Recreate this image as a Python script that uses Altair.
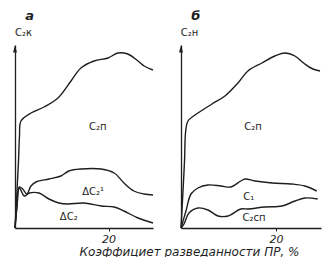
import altair as alt
import pandas as pd

YMAX = 183
XMAX = 29.5

# ---- panel а ----
a_c2p_x = [0, 0.32, 0.53, 0.75, 0.96, 1.28, 3.42, 6.2, 9.19, 11.97, 14.1, 16.9, 19.9, 22.0, 24.1, 26.3, 27.6, 29.5]
a_c2p_y = [0, 27, 47, 67, 92, 107, 115, 121, 130, 147, 160, 167, 170, 175, 174, 167, 162, 158]
a_dc21_x = [0, 0.43, 0.92, 1.65, 2.5, 3.42, 4.5, 7.26, 9.83, 11.5, 14.1, 18.4, 21.2, 23.3, 25.4, 27.6, 29.5]
a_dc21_y = [0, 22, 41, 39, 34, 42, 46, 49, 52, 57, 59, 59, 55, 45, 37, 34, 33]
a_dc2_x = [0, 0.43, 0.92, 1.99, 3.06, 5.13, 7.26, 9.4, 11.3, 14.7, 18.4, 21.2, 23.3, 26.3, 29.5]
a_dc2_y = [0, 22, 40, 32, 35, 35, 29, 25, 24, 25, 22, 21, 17, 10, 5]

# ---- panel б ----
b_c2p_x = [0, 0.42, 0.74, 0.99, 1.47, 3.58, 6.53, 9.26, 12.0, 14.1, 17.05, 19.8, 21.9, 24.0, 26.1, 27.8, 29.3]
b_c2p_y = [0, 37, 67, 97, 107, 115, 124, 132, 145, 157, 165, 172, 175, 172, 164, 159, 157]
b_c1_x = [0, 1.05, 2.1, 3.58, 5.68, 8.42, 10.5, 12.6, 13.5, 15.6, 19.2, 23.4, 26.1, 28.6]
b_c1_y = [0, 17, 34, 40, 43, 42, 41, 47, 49, 47, 45, 44, 42, 37]
b_c2sp_x = [0, 0.63, 1.68, 3.58, 5.68, 7.8, 9.9, 12.6, 14.1, 17.7, 21.3, 24.0, 26.1, 28.8]
b_c2sp_y = [0, 4, 15, 20, 18, 12, 12, 19, 19, 21, 22, 27, 30, 29]

# curve labels
a_lab_text = ["C₂п", "ΔC₂¹", "ΔC₂"]
a_lab_x = [17.7, 16.7, 11.5]
a_lab_y = [101, 36, 11]
b_lab_text = ["C₂п", "C₁", "C₂сп"]
b_lab_x = [15.2, 14.3, 15.4]
b_lab_y = [101, 31, 10]

INK = "#1e1e1e"
FONT = "DejaVu Sans"


def lines_df(series):
    rows = []
    for name, xs, ys in series:
        for i, (x, y) in enumerate(zip(xs, ys)):
            rows.append({"s": name, "i": i, "x": x, "y": y})
    return pd.DataFrame(rows)


def panel(series, lab_t, lab_x, lab_y, ytitle, letter, width, xtitle):
    xaxis = alt.Axis(values=[20], tickSize=3, labelFontSize=11, labelFontStyle="italic",
                     labelPadding=2, labelBaseline="top", grid=False, title=xtitle,
                     titleFontSize=12, titleFontStyle="italic", titleFontWeight="normal",
                     titleX=174, titleY=23, titleAlign="center", titleBaseline="middle")
    yaxis = alt.Axis(ticks=False, labels=False, grid=False, title=ytitle, titleAngle=0,
                     titleX=8, titleY=-8, titleAlign="center", titleBaseline="bottom",
                     titleFontSize=10, titleFontWeight="normal")
    xs = alt.X("x:Q", scale=alt.Scale(domain=[0, XMAX], nice=False, zero=True), axis=xaxis)
    ys = alt.Y("y:Q", scale=alt.Scale(domain=[0, YMAX], nice=False), axis=yaxis)
    line = alt.Chart(lines_df(series)).mark_line(
        color=INK, strokeWidth=1.4, interpolate="catmull-rom", clip=False
    ).encode(x=xs, y=ys, detail="s:N", order="i:Q")
    arrow = alt.Chart(pd.DataFrame({"x": [0], "y": [YMAX]})).mark_point(
        shape="M0,0L-1.3,5L1.3,5Z", size=9, filled=True, color=INK, opacity=1, clip=False
    ).encode(x="x:Q", y="y:Q")
    labels = alt.Chart(pd.DataFrame({"t": lab_t, "x": lab_x, "y": lab_y})).mark_text(
        font=FONT, fontSize=10, color=INK, align="center", baseline="middle"
    ).encode(x="x:Q", y="y:Q", text="t:N")
    return alt.layer(line, arrow, labels).properties(
        width=width, height=YMAX,
        title=alt.TitleParams(letter, anchor="start", dx=13, fontSize=13, font=FONT,
                              fontStyle="italic", fontWeight="bold", offset=4, color=INK),
    )


pa = panel([("C2p", a_c2p_x, a_c2p_y), ("dC21", a_dc21_x, a_dc21_y), ("dC2", a_dc2_x, a_dc2_y)],
           a_lab_text, a_lab_x, a_lab_y, "C₂к", "а", 138, "Коэффициет разведанности ПР, %")
pb = panel([("C2p", b_c2p_x, b_c2p_y), ("C1", b_c1_x, b_c1_y), ("C2sp", b_c2sp_x, b_c2sp_y)],
           b_lab_text, b_lab_x, b_lab_y, "C₂н", "б", 140, "")

chart = alt.hconcat(pa, pb, spacing=28, bounds="flush").properties(
    padding={"left": 12, "top": 10, "right": 0, "bottom": 0},
    background="white",
).configure_view(stroke=None).configure_axis(
    domainColor=INK, domainWidth=1.3, tickColor=INK, labelColor=INK, titleColor=INK,
    labelFont=FONT, titleFont=FONT,
)

chart.save("out.html", embed_options={"renderer": "svg", "actions": False})
